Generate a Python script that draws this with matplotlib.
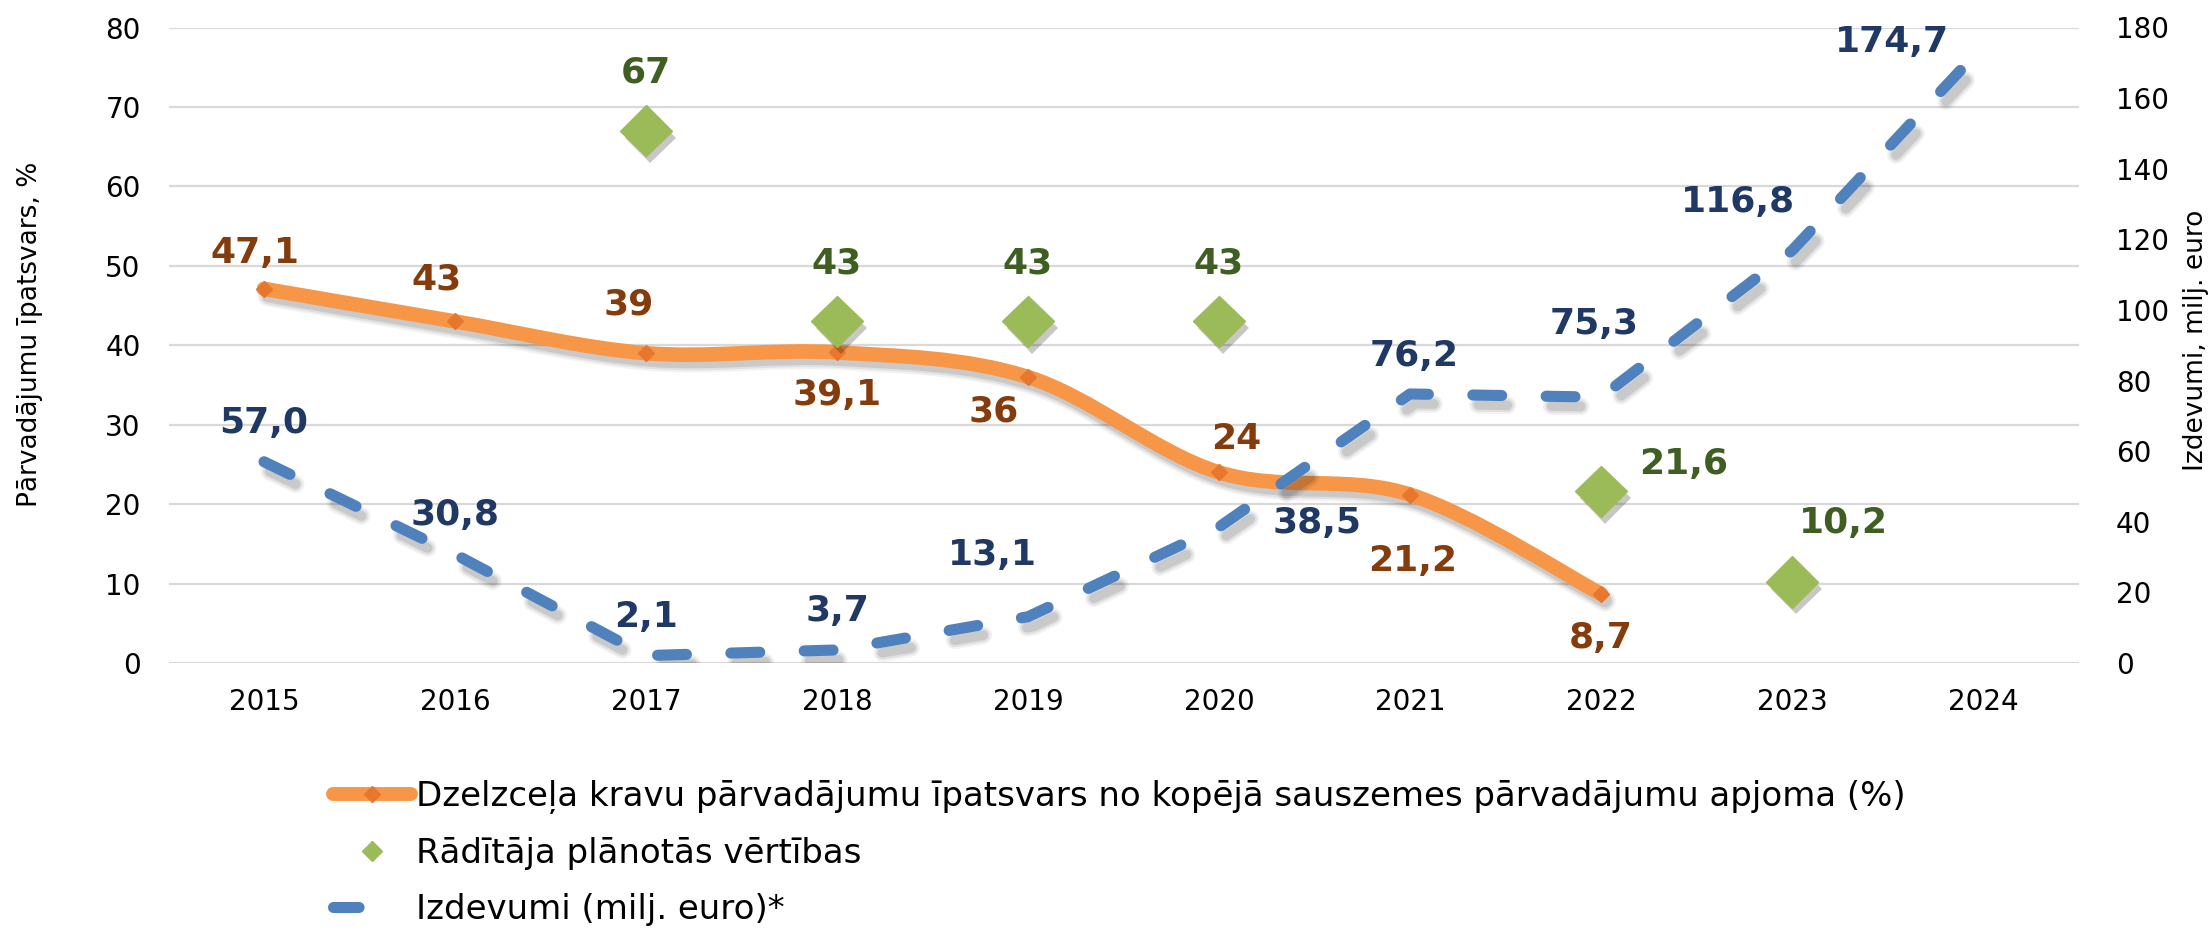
import matplotlib
matplotlib.use("Agg")
import matplotlib.pyplot as plt
import matplotlib.patheffects as pe
from matplotlib.path import Path
from matplotlib.patches import PathPatch
from matplotlib.lines import Line2D
import numpy as np

# --- data ---
years = ["2015", "2016", "2017", "2018", "2019", "2020", "2021", "2022", "2023", "2024"]
rail_share = [47.1, 43, 39, 39.1, 36, 24, 21.2, 8.7]              # %, 2015-2022
planned = [np.nan, np.nan, 67, 43, 43, 43, np.nan, 21.6, 10.2, np.nan]  # %
spending = [57.0, 30.8, 2.1, 3.7, 13.1, 38.5, 76.2, 75.3, 116.8, 174.7]  # milj. euro

legend_labels = [
    "Dzelzceļa kravu pārvadājumu īpatsvars no kopējā sauszemes pārvadājumu apjoma (%)",
    "Rādītāja plānotās vērtības",
    "Izdevumi (milj. euro)*",
]

# label offsets in pixels (dx, dy) relative to each point
rail_offsets = [(-9, 36), (-18, 42), (-17, 49), (0, -43), (-34, -34), (17, 33), (3, -66), (0, -44)]
planned_offsets = [None, None, (0, 58), (0, 58), (0, 58), (0, 58), None, (83, 27), (51, 59), None]
spend_offsets = [(0, 39), (0, 39), (0, 39), (0, 39), (-36, 62), (98, 4), (4, 38), (-7, 73), (-54, 49), (-91, 4)]

ORANGE = "#F79646"
ORANGE_DARK = "#E8772E"
ORANGE_TXT = "#843C0C"
GREEN = "#9BBB59"
GREEN_TXT = "#3F5F22"
BLUE = "#4F81BD"
BLUE_TXT = "#1F3864"

plt.rcParams["font.family"] = ["DejaVu Sans"]

fig = plt.figure(figsize=(22.11, 9.3), dpi=100)
ax = fig.add_axes([168.5 / 2211, 1 - 663 / 930, 1910 / 2211, 635.5 / 930])
ax2 = ax.twinx()

x = np.arange(len(years))
xr = x[:len(rail_share)]


def line_shadow(lw, dx=3, dy=-5):
    # soft shadow made of a few translucent strokes
    return [
        pe.SimpleLineShadow(offset=(dx, dy), shadow_color="black", alpha=0.05, linewidth=lw + 5),
        pe.SimpleLineShadow(offset=(dx, dy), shadow_color="black", alpha=0.07, linewidth=lw + 2),
        pe.SimpleLineShadow(offset=(dx, dy), shadow_color="black", alpha=0.10, linewidth=lw - 1),
        pe.Normal(),
    ]


def marker_shadow(dx=3, dy=-5):
    return [pe.SimplePatchShadow(offset=(dx, dy), shadow_rgbFace="black", alpha=0.22), pe.Normal()]


# smooth (Excel-like) bezier path through the rail share points
pts = np.column_stack([xr, rail_share]).astype(float)
verts = [pts[0]]
codes = [Path.MOVETO]
n = len(pts)
for i in range(n - 1):
    p0 = pts[max(i - 1, 0)]
    p1 = pts[i]
    p2 = pts[i + 1]
    p3 = pts[min(i + 2, n - 1)]
    c1 = p1 + (p2 - p0) / 6.0
    c2 = p2 - (p3 - p1) / 6.0
    verts += [c1, c2, p2]
    codes += [Path.CURVE4] * 3
rail_path = PathPatch(Path(verts, codes), fill=False, edgecolor=ORANGE, lw=10.5,
                      capstyle="round", joinstyle="round", zorder=3)
rail_path.set_path_effects(line_shadow(10.5))
ax.add_patch(rail_path)
ax.plot(xr, rail_share, ls="none", marker="D", ms=8, color=ORANGE_DARK, zorder=4)

ax.plot(x, planned, ls="none", marker="D", ms=26, color=GREEN, zorder=5,
        path_effects=marker_shadow())

ax2.plot(x, spending, color=BLUE, lw=8, dashes=(2.6, 4.0), dash_capstyle="round",
         zorder=3, path_effects=line_shadow(8, 4, -7))

# data labels
lab_kw = dict(textcoords="offset pixels", ha="center", va="center", fontsize=26, fontweight="bold")
for xi, v, off in zip(xr, rail_share, rail_offsets):
    ax.annotate(f"{v:g}".replace(".", ","), (xi, v), xytext=off, color=ORANGE_TXT, **lab_kw)
for xi, v, off in zip(x, planned, planned_offsets):
    if off is None or np.isnan(v):
        continue
    ax.annotate(f"{v:g}".replace(".", ","), (xi, v), xytext=off, color=GREEN_TXT, **lab_kw)
for xi, v, off in zip(x, spending, spend_offsets):
    ax2.annotate(f"{v:.1f}".replace(".", ","), (xi, v), xytext=off, color=BLUE_TXT, **lab_kw)

# axes
ax.set_xlim(-0.5, len(years) - 0.5)
ax.set_ylim(0, 80)
ax2.set_ylim(0, 180)
ax.set_yticks(np.arange(0, 81, 10))
ax2.set_yticks(np.arange(0, 181, 20))
ax.set_xticks(x)
ax.set_xticklabels(years)
ax.yaxis.grid(True, color="#D9D9D9", lw=1.6)
ax.set_axisbelow(True)
for a in (ax, ax2):
    for s in a.spines.values():
        s.set_visible(False)
ax.tick_params(axis="both", length=0, labelsize=20, colors="black")
ax.tick_params(axis="y", pad=20)
ax.tick_params(axis="x", pad=18)
ax2.tick_params(axis="y", length=0, labelsize=20, pad=27, colors="black")

fig.text(30 / 2211, 1 - 334 / 930, "Pārvadājumu īpatsvars, %", rotation=90,
         ha="center", va="center", fontsize=19)
fig.text(2196 / 2211, 1 - 340 / 930, "Izdevumi, milj. euro", rotation=90,
         ha="center", va="center", fontsize=19)

# legend
handles = [
    Line2D([], [], color=ORANGE, lw=10, solid_capstyle="round", marker="D", ms=8,
           markerfacecolor=ORANGE_DARK, markeredgecolor=ORANGE_DARK),
    Line2D([], [], ls="none", marker="D", ms=10.5, color=GREEN),
    Line2D([], [], color=BLUE, lw=8, dashes=(2.3, 10.0), dash_capstyle="round"),
]
fig.legend(handles, legend_labels, loc="upper left", bbox_to_anchor=(333 / 2211, 1 - 780 / 930),
           frameon=False, fontsize=24.5, handlelength=2.3, handletextpad=0.15,
           labelspacing=0.68, borderpad=0, borderaxespad=0, numpoints=1)

fig.savefig("out.png", dpi=100)
